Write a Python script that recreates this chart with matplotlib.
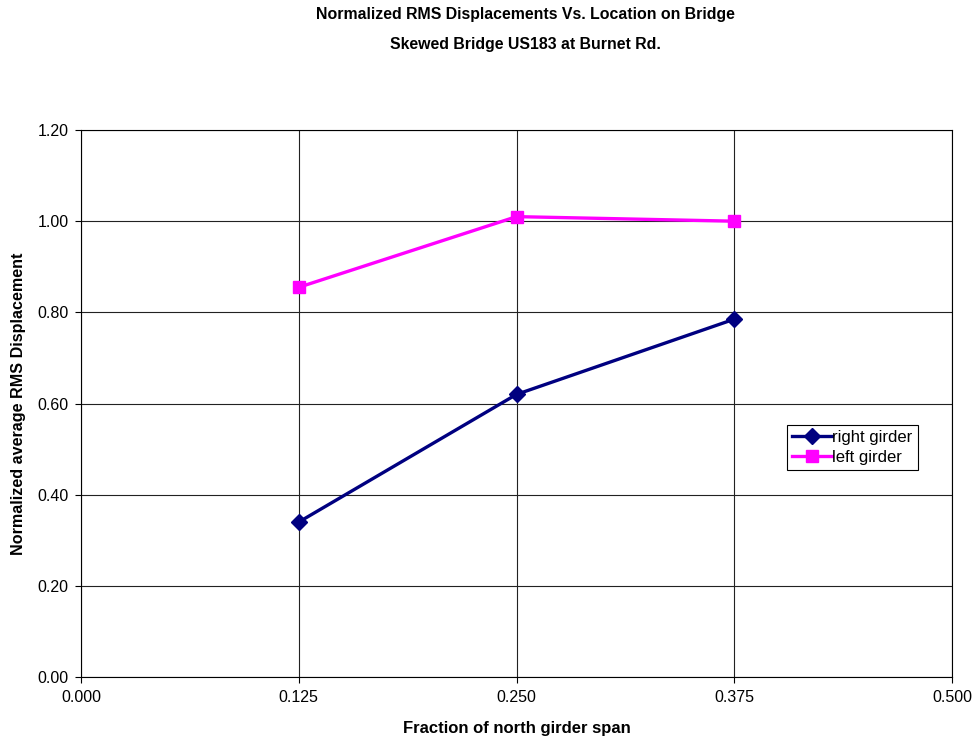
import matplotlib
matplotlib.use("Agg")
import matplotlib.pyplot as plt
from matplotlib.ticker import FormatStrFormatter

plt.rcParams['font.family'] = ['Liberation Sans', 'DejaVu Sans']

x = [0.125, 0.250, 0.375]
right_girder = [0.34, 0.62, 0.785]
left_girder = [0.855, 1.01, 1.00]
xticks = [0.0, 0.125, 0.25, 0.375, 0.5]
yticks = [0.0, 0.2, 0.4, 0.6, 0.8, 1.0, 1.2]

fig = plt.figure(figsize=(9.74, 7.4), dpi=100)
ax = fig.add_axes([0.0832, 0.0851, 0.8942, 0.7392])

ax.plot(x, right_girder, color='#000080', lw=2.4, marker='D', ms=8, label='right girder', zorder=3)
ax.plot(x, left_girder, color='#FF00FF', lw=2.4, marker='s', ms=9, label='left girder', zorder=3)

ax.set_xlim(0, 0.5)
ax.set_ylim(0, 1.2)
ax.set_xticks(xticks)
ax.set_yticks(yticks)
ax.xaxis.set_major_formatter(FormatStrFormatter('%.3f'))
ax.yaxis.set_major_formatter(FormatStrFormatter('%.2f'))
ax.grid(True, color='#222222', lw=0.8)
ax.set_axisbelow(True)
for s in ax.spines.values():
    s.set_color('black')
    s.set_linewidth(0.8)
ax.tick_params(direction='out', length=4, labelsize=11.5, pad=5)

ax.set_xlabel('Fraction of north girder span', fontsize=12, fontweight='bold', labelpad=12)
ax.set_ylabel('Normalized average RMS Displacement', fontsize=11.6, fontweight='bold', labelpad=8)

fig.text(0.539, 0.980, 'Normalized RMS Displacements Vs. Location on Bridge',
         ha='center', va='center', fontsize=11.4, fontweight='bold')
fig.text(0.539, 0.9405, 'Skewed Bridge US183 at Burnet Rd.',
         ha='center', va='center', fontsize=11.4, fontweight='bold')

leg = ax.legend(loc='lower left', bbox_to_anchor=(0.81, 0.378), fontsize=12,
                frameon=True, fancybox=False, edgecolor='black', framealpha=1,
                handlelength=2.4, handletextpad=0.05, borderpad=0.3, labelspacing=0.3,
                borderaxespad=0, markerscale=1.0)
leg.get_frame().set_linewidth(0.8)

fig.savefig('out.png', dpi=100)
